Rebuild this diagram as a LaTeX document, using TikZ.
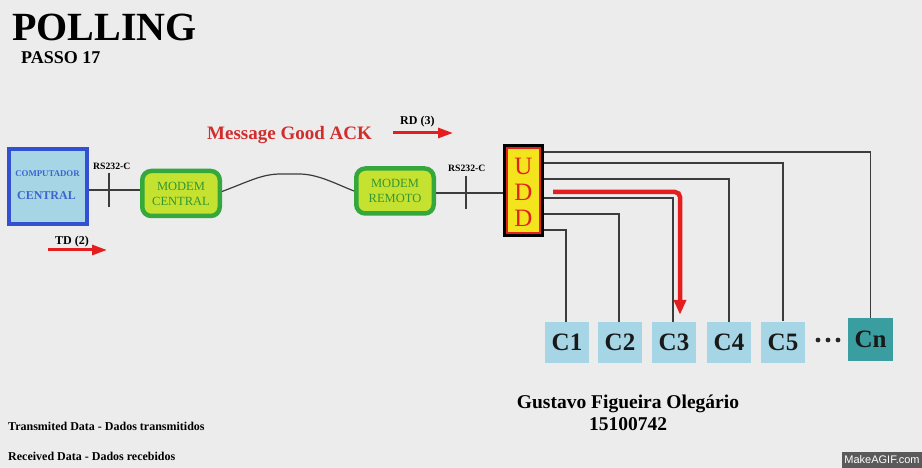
\documentclass[tikz,border=0pt]{standalone}
\usepackage{fontspec}
\setmainfont{Liberation Serif}
\newfontfamily\gifsans{Liberation Sans}
\usetikzlibrary{arrows.meta}
\definecolor{bgc}{RGB}{236,236,236}
\definecolor{cfill}{RGB}{166,214,230}
\definecolor{cborder}{RGB}{50,80,210}
\definecolor{ctext}{RGB}{60,100,205}
\definecolor{mfill}{RGB}{198,226,48}
\definecolor{mborder}{RGB}{52,168,60}
\definecolor{mtext}{RGB}{50,150,50}
\definecolor{uddyel}{RGB}{244,228,30}
\definecolor{uddred}{RGB}{225,35,30}
\definecolor{ared}{RGB}{228,30,30}
\definecolor{msgred}{RGB}{210,45,45}
\definecolor{wire}{RGB}{60,60,60}
\definecolor{cnfill}{RGB}{58,158,160}
\definecolor{gifbox}{RGB}{90,90,90}
\begin{document}
\begin{tikzpicture}[x=1pt,y=-1pt,
  wirel/.style={draw=wire,line width=1.2pt},
  redarrow/.style={draw=ared,line width=3pt,-{Triangle[length=15pt,width=10pt]}},
  modem/.style={draw=mborder,fill=mfill,line width=4.5pt,rounded corners=9pt,
    minimum width=77.5pt,minimum height=45pt,inner sep=0pt,align=center,
    text=mtext,font=\fontsize{12.5}{15}\selectfont},
  term/.style={fill=cfill,minimum width=44pt,minimum height=41pt,inner sep=0pt,
    text=black!90,font=\bfseries\fontsize{25}{25}\selectfont},
  txt/.style={inner sep=0pt,anchor=base west},
  bold/.style={font=\bfseries\fontsize{#1}{#1}\selectfont}
]
\fill[bgc] (0,0) rectangle (922,468);
\useasboundingbox (0,0) rectangle (922,468);

% titles
\node[txt,bold=40] (title) at (12,41) {POLLING};
\node[txt,bold=18] (passo) at (21,64) {PASSO 17};
\node[txt,bold=19,text=msgred] (msg) at (207,139.5) {Message Good ACK};

% computer
\node[draw=cborder,fill=cfill,line width=4pt,minimum width=78pt,minimum height=75pt,inner sep=0pt] (comp) at (48,186.5) {};
\node[txt,anchor=base,bold=8.8,text=ctext] (comp1) at (47.5,176.5) {COMPUTADOR};
\node[txt,anchor=base,bold=12,text=ctext] (comp2) at (46.5,199.5) {CENTRAL};

% modems
\node[modem] (mc) at (181,193.5) {MODEM\\CENTRAL};
\node[modem] (mr) at (395,191) {MODEM\\REMOTO};

% UDD
\node[draw=black,fill=uddred,line width=3pt,minimum width=38pt,minimum height=90pt,inner sep=0pt] (udd) at (523.5,190.5) {};
\fill[uddyel] ([shift={(5pt,-5pt)}]udd.north west) rectangle ([shift={(-5pt,5pt)}]udd.south east);
\node[inner sep=0pt,align=center,text=uddred,font=\fontsize{25}{26}\selectfont] (uddtxt) at ([yshift=-1.5pt]udd.center) {U\\D\\D};

% terminals
\node[term] (c1) at (567,342.5) {C1};
\node[term] (c2) at (620,342.5) {C2};
\node[term] (c3) at (674,342.5) {C3};
\node[term] (c4) at (729,342.5) {C4};
\node[term] (c5) at (783,342) {C5};
\node[term,fill=cnfill,minimum width=45pt,minimum height=43pt] (cn) at (870.5,339.5) {Cn};
\foreach \dx in {818,828,838} \fill[black!85] (\dx,340) circle (2.4pt);

% wires
\coordinate (w1) at ([yshift=-3.5pt]comp.east);
\draw[wirel] (w1) -- (w1 -| mc.west);
\draw[wirel] (109,173) -- (109,207);
\node[txt,bold=9.7] (rs1) at (93,169.5) {RS232-C};
\draw[wirel] ([yshift=2pt]mc.east) .. controls (250,181) and (262,174) .. (281,174) -- (299,174) .. controls (318,174) and (336,184) .. (mr.west);
\coordinate (w2) at ([yshift=-2pt]mr.east);
\draw[wirel] (w2) -- (w2 -| udd.west);
\draw[wirel] (466,176) -- (466,209);
\node[txt,bold=9.7] (rs2) at (448,172) {RS232-C};

\draw[wirel] ([yshift=38.5pt]udd.east) -| (cn.north);
\draw[wirel] ([yshift=27.5pt]udd.east) -| (c5.north);
\draw[wirel] ([yshift=11.5pt]udd.east) -| (c4.north);
\draw[wirel] ([yshift=-7.5pt]udd.east) -| ([xshift=-1pt]c3.north);
\draw[wirel] ([yshift=-23.5pt]udd.east) -| ([xshift=-1pt]c2.north);
\draw[wirel] ([yshift=-39.5pt]udd.east) -| ([xshift=-1pt]c1.north);

% red polling arrow
\coordinate (rs) at (553,192);
\draw[draw=ared,line width=4.5pt,rounded corners=5pt,-{Triangle[length=15pt,width=12pt]}] (rs) -| ([xshift=6pt,yshift=7pt]c3.north);

% data arrows
\node[txt,bold=12] (rdl) at (400,125) {RD (3)};
\coordinate (rda) at (393,133); \coordinate (rdb) at (453,133);
\draw[redarrow] (rda) -- (rdb);
\node[txt,bold=12] (tdl) at (55,244) {TD (2)};
\coordinate (tda) at (48,250); \coordinate (tdb) at (107,250);
\draw[redarrow] (tda) -- (tdb);

% bottom texts
\node[txt,anchor=base,bold=19.5] (author) at (628,408) {Gustavo Figueira Olegário};
\node[txt,anchor=base,bold=19.5] (num) at (628,430) {15100742};
\node[txt,bold=12] (leg1) at (8,430) {Transmited Data - Dados transmitidos};
\node[txt,bold=12] (leg2) at (8,460) {Received Data - Dados recebidos};

% watermark
\node[fill=gifbox,text=white,minimum width=80pt,minimum height=16pt,inner sep=0pt,font=\gifsans\fontsize{11}{11}\selectfont] (gif) at (882,460) {MakeAGIF.com};
\end{tikzpicture}
\end{document}
